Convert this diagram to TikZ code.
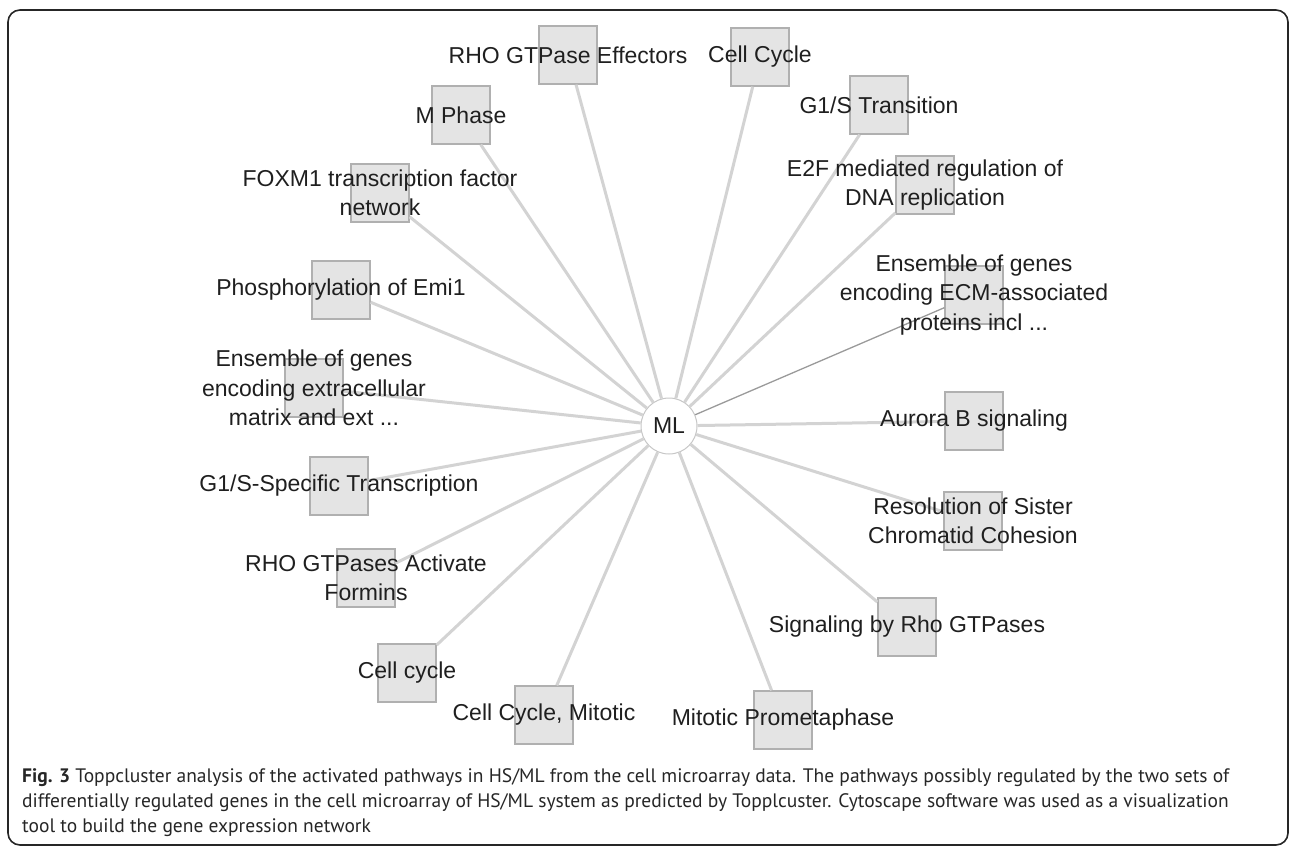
\documentclass[tikz,border=0pt]{standalone}
\usepackage{fontspec}
\setmainfont{Liberation Sans}
\newfontfamily\capfont{PT Sans}
\usepackage{tikz}
\usetikzlibrary{positioning}
\definecolor{boxfill}{HTML}{E4E4E4}
\definecolor{boxline}{HTML}{B0B0B0}
\definecolor{edgegray}{HTML}{D3D3D3}
\definecolor{darkedge}{HTML}{9A9A9A}
\tikzset{
  pathbox/.style={draw=boxline,fill=boxfill,line width=1.3pt,minimum size=58pt,inner sep=0pt},
  hubnode/.style={circle,draw=black!22,fill=white,line width=1pt,minimum size=56pt,inner sep=0pt},
  lbl/.style={align=center,text=black!88,inner sep=0pt,font=\fontsize{23}{29.5}\selectfont},
  link/.style={draw=edgegray,line width=3pt},
  thinlink/.style={draw=darkedge,line width=1.3pt},
  frame/.style={draw=black!85,line width=1.6pt,rounded corners=12pt},
}

\begin{document}
\begin{tikzpicture}[x=1pt,y=-1pt]
  \useasboundingbox (0,0) rectangle (1290,848);
  \draw[frame] (8,10) rectangle (1288,845);

  % nodes
  \node[hubnode] (ml) at (669,426) {};
  \node[pathbox] (rhoeff)   at (568,55)  {};
  \node[pathbox] (cellcyc)  at (760,57)  {};
  \node[pathbox] (gstrans)  at (879,105) {};
  \node[pathbox] (etwof)    at (925,185) {};
  \node[pathbox] (ecm)      at (974,295) {};
  \node[pathbox] (aurora)   at (974,421) {};
  \node[pathbox] (sister)   at (973,521) {};
  \node[pathbox] (rhosig)   at (907,627) {};
  \node[pathbox] (prometa)  at (783,720) {};
  \node[pathbox] (mitotic)  at (544,715) {};
  \node[pathbox] (cellcyc2) at (407,673) {};
  \node[pathbox] (formins)  at (366,578) {};
  \node[pathbox] (gsspec)   at (339,486) {};
  \node[pathbox] (ecmext)   at (314,388) {};
  \node[pathbox] (emi)      at (341,290) {};
  \node[pathbox] (foxm)     at (380,193) {};
  \node[pathbox] (mphase)   at (461,115) {};

  % edges
  \foreach \t in {rhoeff,cellcyc,gstrans,etwof,aurora,sister,rhosig,prometa,
                  mitotic,cellcyc2,formins,gsspec,ecmext,emi,foxm,mphase}
    \draw[link] (ml) -- (\t);
  \draw[thinlink] (ml) -- (ecm);

  % labels
  \node[lbl] (ml-t)       at (ml)       {ML};
  \node[lbl] (rhoeff-t)   at (rhoeff)   {RHO GTPase Effectors};
  \node[lbl] (cellcyc-t)  at (cellcyc)  {Cell Cycle};
  \node[lbl] (gstrans-t)  at (gstrans)  {G1/S Transition};
  \node[lbl] (etwof-t)    at (etwof)    {E2F mediated regulation of\\DNA replication};
  \node[lbl] (ecm-t)      at (ecm)      {Ensemble of genes\\encoding ECM-associated\\proteins incl ...};
  \node[lbl] (aurora-t)   at (aurora)   {Aurora B signaling};
  \node[lbl] (sister-t)   at (sister)   {Resolution of Sister\\Chromatid Cohesion};
  \node[lbl] (rhosig-t)   at (rhosig)   {Signaling by Rho GTPases};
  \node[lbl] (prometa-t)  at (prometa)  {Mitotic Prometaphase};
  \node[lbl] (mitotic-t)  at (mitotic)  {Cell Cycle, Mitotic};
  \node[lbl] (cellcyc2-t) at (cellcyc2) {Cell cycle};
  \node[lbl] (formins-t)  at (formins)  {RHO GTPases Activate\\Formins};
  \node[lbl] (gsspec-t)   at (gsspec)   {G1/S-Specific Transcription};
  \node[lbl] (ecmext-t)   at (ecmext)   {Ensemble of genes\\encoding extracellular\\matrix and ext ...};
  \node[lbl] (emi-t)      at (emi)      {Phosphorylation of Emi1};
  \node[lbl] (foxm-t)     at (foxm)     {FOXM1 transcription factor\\network};
  \node[lbl] (mphase-t)   at (mphase)   {M Phase};

  % caption
  \node[anchor=north west,align=left,inner sep=0pt,text=black!85,
        font=\capfont\fontsize{19.5}{25}\selectfont] (cap) at (22,768)
    {\textbf{Fig. 3} Toppcluster analysis of the activated pathways in HS/ML from the cell microarray data. The pathways possibly regulated by the two sets of\\
     differentially regulated genes in the cell microarray of HS/ML system as predicted by Topplcuster. Cytoscape software was used as a visualization\\
     tool to build the gene expression network};
\end{tikzpicture}
\end{document}
